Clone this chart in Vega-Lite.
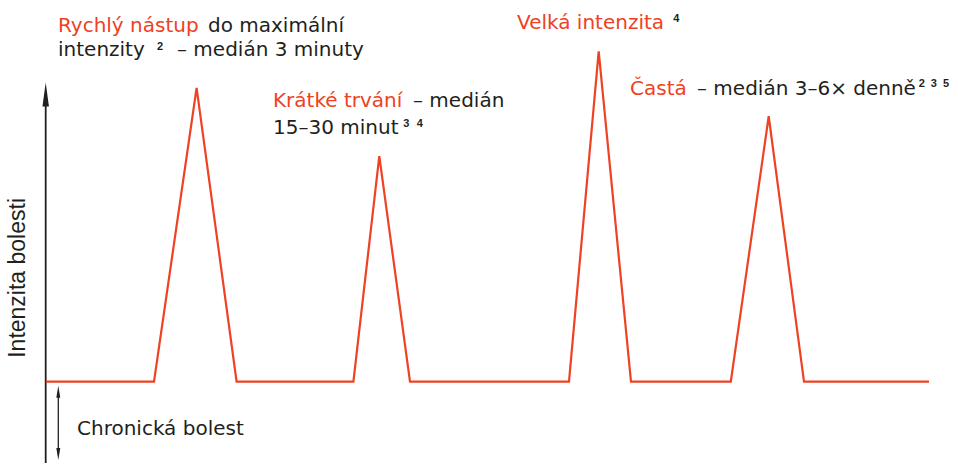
{
  "$schema": "https://vega.github.io/schema/vega-lite/v6.json",
  "width": 958,
  "height": 464,
  "padding": 0,
  "autosize": {"type": "fit", "contains": "padding"},
  "background": "white",
  "config": {"view": {"stroke": null}},
  "datasets": {
    "pain": [
      {"t": 46, "v": 0}, {"t": 154, "v": 0}, {"t": 196.6, "v": 294.5}, {"t": 236.6, "v": 0},
      {"t": 353.4, "v": 0}, {"t": 379.3, "v": 226}, {"t": 410, "v": 0},
      {"t": 569, "v": 0}, {"t": 598.7, "v": 331}, {"t": 631, "v": 0},
      {"t": 730.8, "v": 0}, {"t": 768.7, "v": 266}, {"t": 804, "v": 0}, {"t": 929, "v": 0}
    ],
    "rules": [
      {"t": 45.7, "v": -81.5, "v2": 282.5, "kind": "axis"},
      {"t": 58.3, "v": -10.5, "v2": -72.5, "kind": "span"}
    ],
    "heads": [
      {"t": 45.7, "v": 287.8, "kind": "axisUp"},
      {"t": 58.3, "v": -10.2, "kind": "spanUp"},
      {"t": 58.3, "v": -72.5, "kind": "spanDown"}
    ],
    "labels": [
      {"t": 58, "v": 350.8, "text": "Rychlý nástup", "tone": "accent"},
      {"t": 208, "v": 350.8, "text": "do maximální", "tone": "ink"},
      {"t": 58, "v": 326, "text": "intenzity", "tone": "ink"},
      {"t": 177, "v": 326, "text": "– medián 3 minuty", "tone": "ink"},
      {"t": 273, "v": 275.2, "text": "Krátké trvání", "tone": "accent"},
      {"t": 413, "v": 275.2, "text": "– medián", "tone": "ink"},
      {"t": 273, "v": 248.5, "text": "15–30 minut", "tone": "ink"},
      {"t": 517, "v": 353.8, "text": "Velká intenzita", "tone": "accent"},
      {"t": 630, "v": 287.5, "text": "Častá", "tone": "accent"},
      {"t": 697, "v": 287.5, "text": "– medián 3–6× denně", "tone": "ink"},
      {"t": 77, "v": -53.5, "text": "Chronická bolest", "tone": "ink"}
    ],
    "sups": [
      {"t": 157, "v": 332.5, "text": "2"},
      {"t": 403.3, "v": 255, "text": "3"},
      {"t": 416.7, "v": 255, "text": "4"},
      {"t": 673.3, "v": 360.8, "text": "4"},
      {"t": 918.7, "v": 295.8, "text": "2"},
      {"t": 930.7, "v": 295.8, "text": "3"},
      {"t": 943, "v": 295.8, "text": "5"}
    ],
    "axislabel": [
      {"t": 18, "v": 104, "text": "Intenzita bolesti"}
    ]
  },
  "encoding": {
    "x": {"field": "t", "type": "quantitative", "scale": {"domain": [0, 958], "nice": false, "zero": false}, "axis": null},
    "y": {"field": "v", "type": "quantitative", "scale": {"domain": [-81.5, 382.5], "nice": false, "zero": false}, "axis": null}
  },
  "layer": [
    {
      "data": {"name": "rules"},
      "mark": {"type": "rule", "color": "#231f20"},
      "encoding": {
        "y2": {"field": "v2"},
        "strokeWidth": {"field": "kind", "type": "nominal", "scale": {"domain": ["axis", "span"], "range": [1.8, 1.3]}, "legend": null}
      }
    },
    {
      "data": {"name": "heads"},
      "transform": [{"filter": "datum.kind === 'axisUp'"}],
      "mark": {"type": "point", "shape": "M0,-1L0.27,1L-0.27,1Z", "filled": true, "color": "#231f20", "size": 576, "opacity": 1}
    },
    {
      "data": {"name": "heads"},
      "transform": [{"filter": "datum.kind === 'spanUp'"}],
      "mark": {"type": "point", "shape": "M0,-1L0.33,1L-0.33,1Z", "filled": true, "color": "#231f20", "size": 144, "opacity": 1}
    },
    {
      "data": {"name": "heads"},
      "transform": [{"filter": "datum.kind === 'spanDown'"}],
      "mark": {"type": "point", "shape": "M0,1L0.33,-1L-0.33,-1Z", "filled": true, "color": "#231f20", "size": 144, "opacity": 1}
    },
    {
      "data": {"name": "pain"},
      "mark": {"type": "line", "color": "#ef4123", "strokeWidth": 2.2, "strokeJoin": "miter"},
      "encoding": {"order": {"field": "t", "type": "quantitative"}}
    },
    {
      "data": {"name": "labels"},
      "mark": {"type": "text", "align": "left", "baseline": "alphabetic", "font": "DejaVu Sans", "fontSize": 20},
      "encoding": {
        "text": {"field": "text"},
        "color": {"field": "tone", "type": "nominal", "scale": {"domain": ["accent", "ink"], "range": ["#ef4123", "#231f20"]}, "legend": null}
      }
    },
    {
      "data": {"name": "sups"},
      "mark": {"type": "text", "align": "left", "baseline": "alphabetic", "font": "Liberation Sans", "fontSize": 11, "fontWeight": "bold", "color": "#231f20"},
      "encoding": {"text": {"field": "text"}}
    },
    {
      "data": {"name": "axislabel"},
      "mark": {"type": "text", "align": "center", "baseline": "middle", "angle": 270, "font": "Liberation Sans", "fontSize": 23, "color": "#231f20"},
      "encoding": {"text": {"field": "text"}}
    }
  ]
}
